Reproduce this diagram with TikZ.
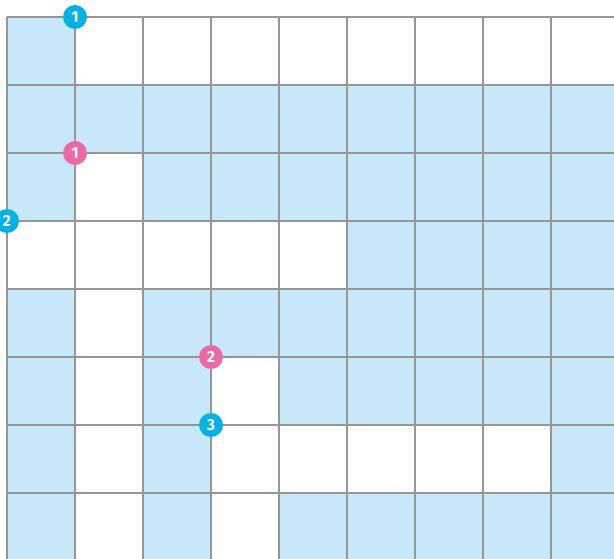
\documentclass[tikz,border=0pt]{standalone}
\usepackage{fontspec}
\setsansfont{Fira Sans}
\usepackage{tikz}
\usetikzlibrary{positioning}

\definecolor{cellblue}{RGB}{198,232,249}
\definecolor{gridgray}{RGB}{150,150,150}
\definecolor{markcyan}{RGB}{0,178,230}
\definecolor{markpink}{RGB}{238,104,163}

\tikzset{
    cell/.style={fill=cellblue},
    gridline/.style={draw=gridgray, line width=1.8pt},
    marker/.style={circle, inner sep=0pt, minimum size=24pt, text=white,
        font=\sffamily\bfseries\fontsize{16}{16}\selectfont},
}

\begin{document}
\begin{tikzpicture}[x=1pt,y=-1pt]
            \useasboundingbox (0,0) rectangle (614,559);
            \clip (0,0) rectangle (614,559);

            % blue cells, row by row
            \foreach \r/\cols in {0/{0}, 1/{0,...,8}, 2/{0,2,3,4,5,6,7,8},
                3/{5,6,7,8}, 4/{0,2,3,4,5,6,7,8}, 5/{0,2,4,5,6,7,8},
                6/{0,2,8}, 7/{0,2,4,5,6,7,8}}{
                \foreach \c in \cols{
                    \fill[cell] (7+68*\c,17+68*\r) rectangle ++(68,68);
                }
            }

            \foreach \i in {0,...,9}{
                \draw[gridline] (7+68*\i,17) -- (7+68*\i,620);
            }
            \foreach \j in {0,...,8}{
                \draw[gridline] (7,17+68*\j) -- (700,17+68*\j);
            }

            \node[marker, fill=markcyan] (c1) at (75,17) {1};
            \node[marker, fill=markpink] (p1) at (75,153) {1};
            \node[marker, fill=markcyan] (c2) at (7,221) {2};
            \node[marker, fill=markpink] (p2) at (211,357) {2};
            \node[marker, fill=markcyan] (c3) at (211,425) {3};
        \end{tikzpicture}
\end{document}
